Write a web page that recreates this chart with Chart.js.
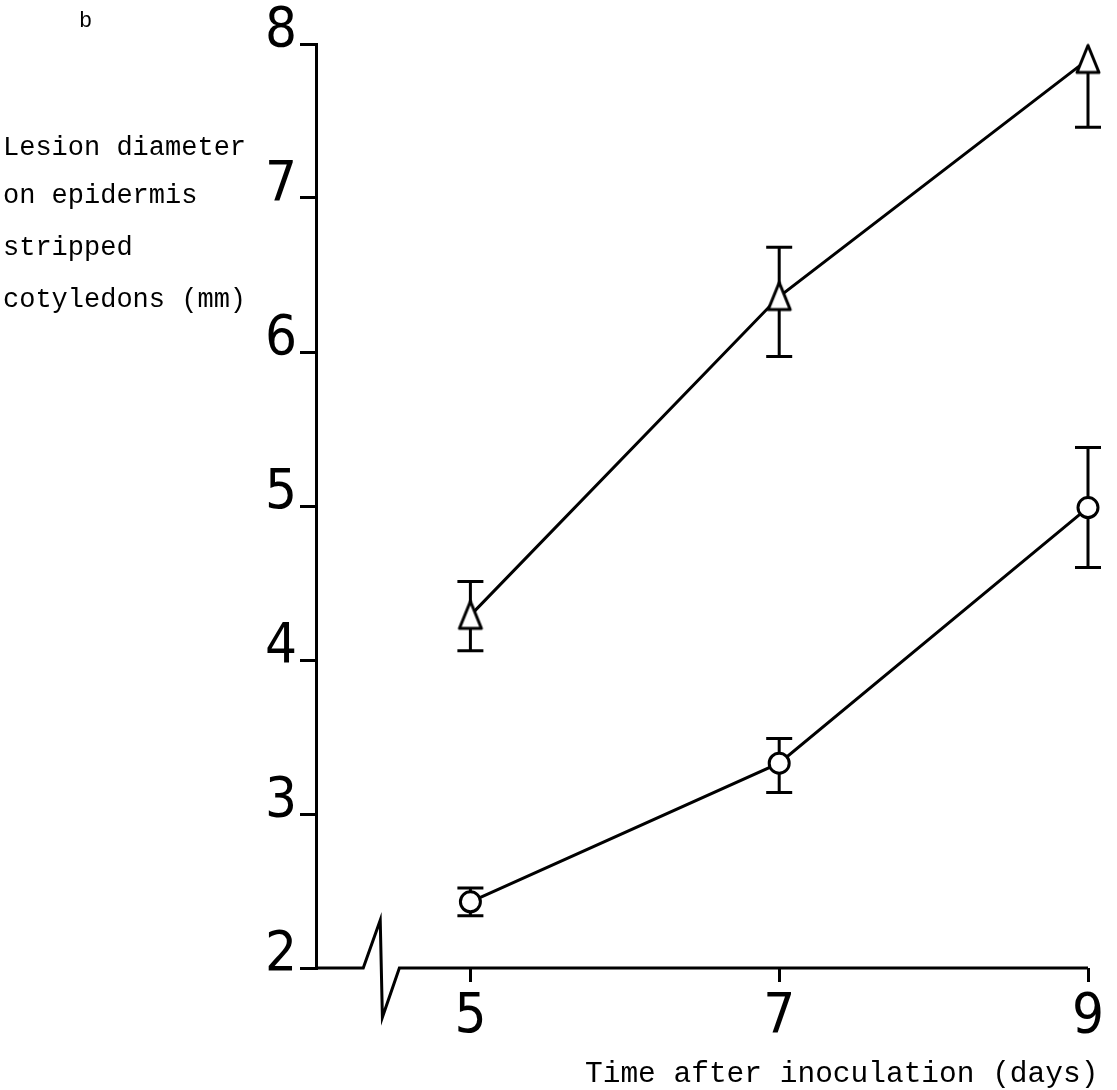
<!DOCTYPE html>
<html lang="en">
<head>
    <meta charset="UTF-8">
    <title>Lesion diameter on epidermis stripped cotyledons</title>
    <script src="https://cdn.jsdelivr.net/npm/chart.js"></script>
    <style>
        body {
            margin: 0;
            padding: 0;
            background-color: #ffffff;
        }
        #wrap {
            width: 1117px;
            height: 1090px;
            position: relative;
        }
    </style>
</head>
<body>
    <div id="wrap">
        <canvas id="chartLesion" width="1117" height="1090"></canvas>
    </div>

    <script>
        // days after inoculation
        var days = [5, 7, 9];

        // triangles (upper series)
        var triangleMean = [4.29, 6.36, 7.90];
        var triangleUpper = [4.51, 6.68, 7.90]; // top bar at day 9 is hidden under the marker
        var triangleLower = [4.06, 5.97, 7.46];

        // circles (lower series)
        var circleMean = [2.43, 3.33, 4.99];
        var circleUpper = [2.52, 3.49, 5.38];
        var circleLower = [2.34, 3.14, 4.60];

        var yTicks = [2, 3, 4, 5, 6, 7, 8];

        var monoFont = '"Liberation Mono", "DejaVu Sans Mono", monospace';
        var digitFont = '"Liberation Sans Narrow", "DejaVu Sans Condensed", "Liberation Sans", sans-serif';

        // tall open triangle used as point style
        function makeTriangle() {
            var c = document.createElement('canvas');
            c.width = 30;
            c.height = 36;
            var g = c.getContext('2d');
            g.lineWidth = 3;
            g.lineJoin = 'round';
            g.strokeStyle = '#000';
            g.fillStyle = '#fff';
            g.beginPath();
            g.moveTo(15, 4);
            g.lineTo(26, 31);
            g.lineTo(4, 31);
            g.closePath();
            g.fill();
            g.stroke();
            return c;
        }

        var errorBars = {
            id: 'errorBars',
            beforeDatasetsDraw: function(chart) {
                var ctx = chart.ctx;
                var x = chart.scales.x;
                var y = chart.scales.y;
                var sets = [[triangleUpper, triangleLower, triangleMean], [circleUpper, circleLower, circleMean]];
                ctx.save();
                ctx.strokeStyle = '#000';
                ctx.lineWidth = 3;
                sets.forEach(function(s) {
                    days.forEach(function(d, i) {
                        var px = x.getPixelForValue(d);
                        var top = y.getPixelForValue(s[0][i]);
                        var bot = y.getPixelForValue(s[1][i]);
                        ctx.beginPath();
                        ctx.moveTo(px, top);
                        ctx.lineTo(px, bot);
                        if (s[0][i] > s[2][i]) {
                            ctx.moveTo(px - 13, top);
                            ctx.lineTo(px + 13, top);
                        }
                        if (s[1][i] < s[2][i]) {
                            ctx.moveTo(px - 13, bot);
                            ctx.lineTo(px + 13, bot);
                        }
                        ctx.stroke();
                    });
                });
                ctx.restore();
            }
        };

        // x axis line with the zigzag break near the origin
        var brokenAxis = {
            id: 'brokenAxis',
            afterDraw: function(chart) {
                var ctx = chart.ctx;
                var x = chart.scales.x;
                var y = chart.scales.y;
                var pts = [[4, 2], [4.306, 2], [4.416, 2.31], [4.43, 1.68], [4.54, 2], [9, 2]];
                ctx.save();
                ctx.strokeStyle = '#000';
                ctx.lineWidth = 3;
                ctx.lineJoin = 'miter';
                ctx.beginPath();
                pts.forEach(function(p, i) {
                    var px = x.getPixelForValue(p[0]);
                    var py = y.getPixelForValue(p[1]);
                    if (i === 0) ctx.moveTo(px, py); else ctx.lineTo(px, py);
                });
                ctx.stroke();
                ctx.restore();
            }
        };

        var labels = {
            id: 'labels',
            afterDraw: function(chart) {
                var ctx = chart.ctx;
                ctx.save();
                ctx.fillStyle = '#000';
                ctx.textAlign = 'left';
                ctx.textBaseline = 'alphabetic';
                ctx.font = '22px ' + monoFont;
                ctx.fillText('b', 79, 27);
                ctx.font = '27px ' + monoFont;
                ctx.fillText('Lesion diameter', 3, 155);
                ctx.fillText('on epidermis', 3, 203);
                ctx.fillText('stripped', 3, 255);
                ctx.fillText('cotyledons (mm)', 3, 307);
                ctx.font = '29.5px ' + monoFont;
                ctx.fillText('Time after inoculation (days)', 585, 1082);
                ctx.restore();
            }
        };

        new Chart(document.getElementById('chartLesion'), {
            type: 'line',
            data: {
                datasets: [{
                    label: 'Triangles',
                    data: days.map(function(d, i) { return { x: d, y: triangleMean[i] }; }),
                    borderColor: '#000',
                    borderWidth: 3,
                    pointStyle: makeTriangle(),
                    clip: false,
                    tension: 0
                }, {
                    label: 'Circles',
                    data: days.map(function(d, i) { return { x: d, y: circleMean[i] }; }),
                    borderColor: '#000',
                    borderWidth: 3,
                    pointStyle: 'circle',
                    pointRadius: 10,
                    pointBorderWidth: 3,
                    pointBackgroundColor: '#fff',
                    pointBorderColor: '#000',
                    clip: false,
                    tension: 0
                }]
            },
            options: {
                responsive: false,
                animation: false,
                layout: { padding: { top: 44, right: 29, left: 0, bottom: 0 } },
                plugins: {
                    legend: { display: false },
                    tooltip: { enabled: false }
                },
                scales: {
                    x: {
                        type: 'linear',
                        min: 4,
                        max: 9,
                        afterBuildTicks: function(scale) {
                            scale.ticks = days.map(function(d) { return { value: d }; });
                        },
                        afterFit: function(scale) { scale.height = 122; },
                        border: { display: false },
                        grid: {
                            drawOnChartArea: false,
                            drawTicks: true,
                            tickLength: 14,
                            lineWidth: 3,
                            color: '#000'
                        },
                        ticks: {
                            color: '#000',
                            padding: 2,
                            font: { family: digitFont, size: 56 }
                        }
                    },
                    y: {
                        min: 2,
                        max: 8,
                        afterBuildTicks: function(scale) {
                            scale.ticks = yTicks.map(function(v) { return { value: v }; });
                        },
                        afterFit: function(scale) { scale.width = 316; },
                        border: { display: true, width: 3, color: '#000' },
                        grid: {
                            drawOnChartArea: false,
                            drawTicks: true,
                            tickLength: 16,
                            lineWidth: 3,
                            color: '#000'
                        },
                        ticks: {
                            color: '#000',
                            padding: 3,
                            labelOffset: -13,
                            font: { family: digitFont, size: 56 }
                        }
                    }
                }
            },
            plugins: [errorBars, brokenAxis, labels]
        });
    </script>
</body>
</html>
